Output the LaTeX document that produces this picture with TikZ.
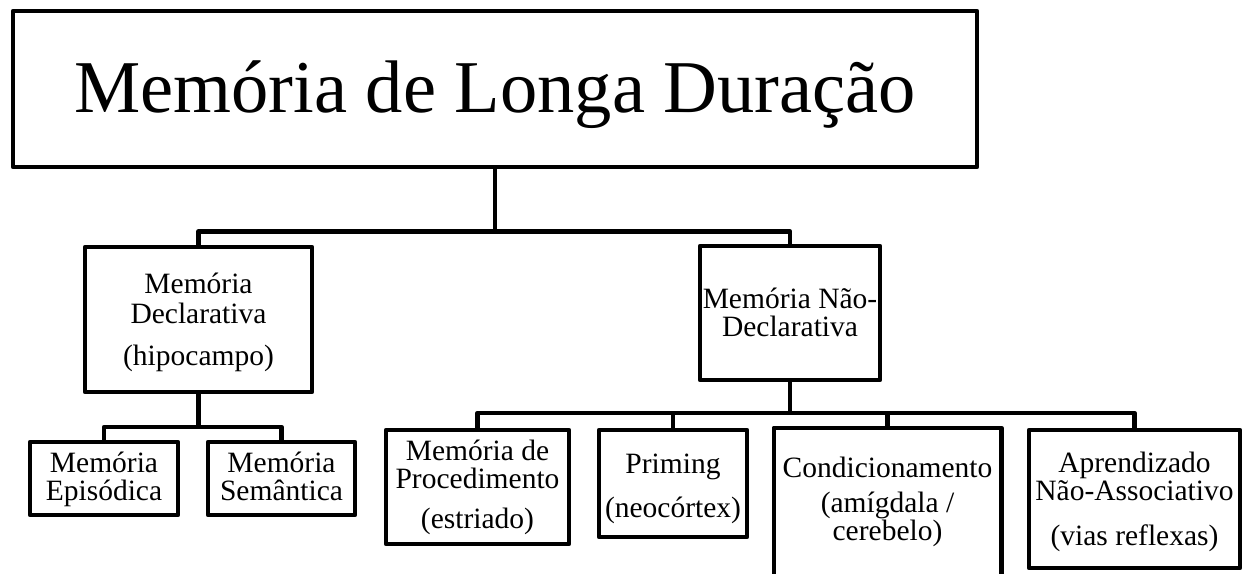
\documentclass[tikz,border=0pt]{standalone}
\usepackage{fontspec}
\setmainfont{Liberation Serif}
\begin{document}
\begin{tikzpicture}[x=1pt,y=-1pt,
  line width=4.5pt, line join=round,
  box/.style={draw, line width=4.5pt, inner sep=0pt, align=center,
    font=\fontsize{29.5}{28}\selectfont},
  conn/.style={draw, line width=4.5pt, line join=round}]
\useasboundingbox (0,0) rectangle (1245,573);
\clip (0,0) rectangle (1245,573);
% title
\node[box, minimum width=964pt, minimum height=156pt,
  font=\fontsize{74.5}{80}\selectfont, text height=101pt, text depth=55pt]
  (top) at (495,89) {Memória de Longa Duração};
% level 2
\node[box, minimum width=227pt, minimum height=145pt, text height=118pt, text depth=27pt]
  (decl) at (198.5,319.5) {Memória\\[2pt]Declarativa\\[14pt](hipocampo)};
\node[box, minimum width=180pt, minimum height=134pt, text height=90pt, text depth=44pt]
  (nondecl) at (790,313) {Memória Não-\\Declarativa};
% level 3 left
\node[box, minimum width=148pt, minimum height=73pt, text height=58pt, text depth=15pt]
  (epi) at (104,478.5) {Memória\\Episódica};
\node[box, minimum width=147pt, minimum height=73pt, text height=58pt, text depth=15pt]
  (sem) at (281.5,478.5) {Memória\\Semântica};
% level 3 right
\node[box, minimum width=183pt, minimum height=114pt, text height=98pt, text depth=16pt]
  (proc) at (477.5,487) {Memória de\\Procedimento\\[12pt](estriado)};
\node[box, minimum width=148pt, minimum height=107pt, text height=87pt, text depth=20pt]
  (prim) at (673,483.5) {Priming\\[16pt](neocórtex)};
\node[box, draw=none, minimum width=223pt, minimum height=140pt, text height=110pt, text depth=30pt]
  (cond) at (887.5,500) {Condicionamento\\[7pt](amígdala /\\cerebelo)};
\node[box, minimum width=211pt, minimum height=138pt, text height=115pt, text depth=23pt]
  (apr) at (1134.5,499) {Aprendizado\\Não-Associativo\\[17pt](vias reflexas)};
% open box for cond (its lower edge lies below the picture)
\coordinate (pagebottom) at (0,590);
\draw[conn] (cond.north west |- pagebottom) -- (cond.north west) -- (cond.north east) -- (cond.north east |- pagebottom);
% bars
\coordinate (bar1) at (0,231.5);
\coordinate (bar2) at (0,427);
\coordinate (bar3) at (0,413);
\draw[conn] (top.south) -- (top.south |- bar1);
\draw[conn] (decl.north) |- (nondecl.north |- bar1) -- (nondecl.north);
\draw[conn] (decl.south) -- (decl.south |- bar2);
\draw[conn] (epi.north) |- (sem.north |- bar2) -- (sem.north);
\draw[conn] (nondecl.south) -- (nondecl.south |- bar3);
\draw[conn] (proc.north) |- (apr.north |- bar3) -- (apr.north);
\draw[conn] (prim.north) -- (prim.north |- bar3);
\draw[conn] (cond.north) -- (cond.north |- bar3);
\end{tikzpicture}
\end{document}
